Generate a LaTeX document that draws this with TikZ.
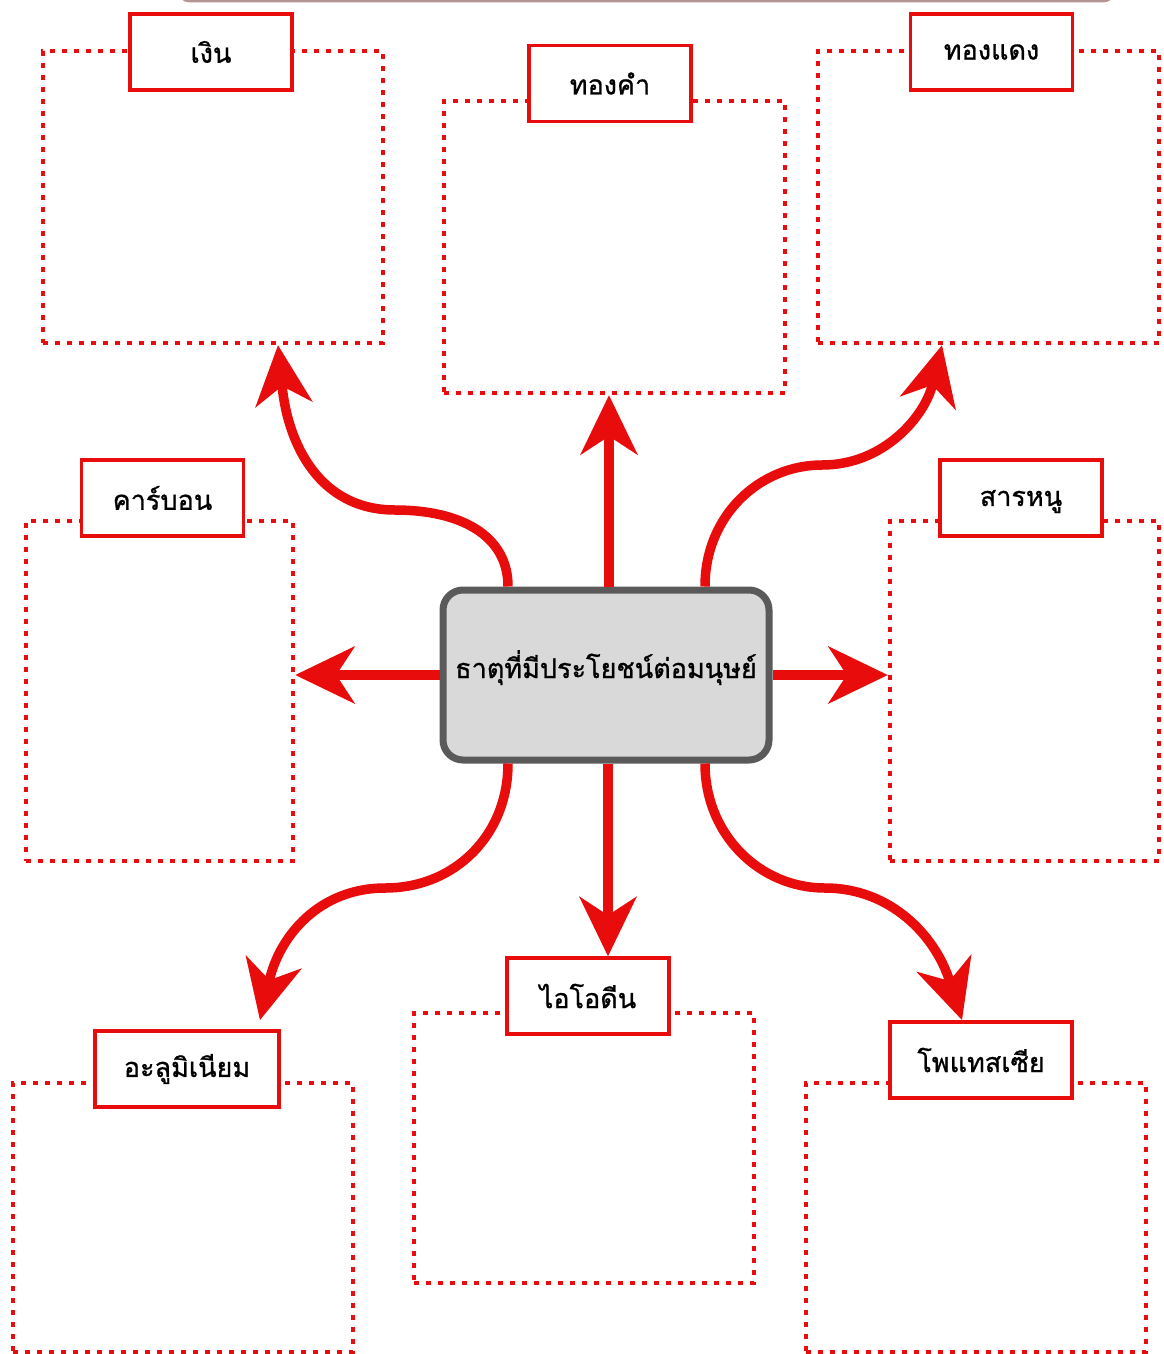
\documentclass[tikz,border=0pt]{standalone}
\usepackage{fontspec}
\newfontfamily\thaifont[Script=Thai,FakeBold=1.0]{Loma}
\usetikzlibrary{arrows.meta,calc}
\definecolor{mred}{RGB}{232,12,12}
\definecolor{mgray}{RGB}{90,90,90}
\definecolor{mfill}{RGB}{217,217,217}
\definecolor{mtop}{RGB}{180,148,148}
\tikzset{
  dotbox/.style={draw=mred, line width=4.5pt, dash pattern=on 5pt off 7pt, inner sep=0pt},
  lbl/.style={draw=mred, line width=3.5pt, fill=white, minimum width=162pt, minimum height=76pt, inner sep=0pt, font=\thaifont\fontsize{27}{30}\selectfont},
  center/.style={draw=mgray, line width=7pt, fill=mfill, rounded corners=20pt, minimum width=326pt, minimum height=170pt, inner sep=0pt, text height=20pt, text depth=14pt, font=\thaifont\fontsize{27}{30}\selectfont},
  arr/.style={draw=mred, line width=9.5pt, -{Stealth[length=60pt,width=58pt,inset=19pt,line width=0pt]}}
}
\begin{document}
\begin{tikzpicture}[x=1pt,y=-1pt]
\useasboundingbox (0,0) rectangle (1163,1354);
\draw[mtop, line width=3pt, fill=white, rounded corners=12pt] (178,-60) rectangle (1115,1);
% dotted boxes
\node[dotbox, minimum width=340pt, minimum height=292pt] (b1) at (213,197) {};
\node[dotbox, minimum width=341pt, minimum height=292pt] (b2) at (614.5,247) {};
\node[dotbox, minimum width=341pt, minimum height=292pt] (b3) at (988.5,197) {};
\node[dotbox, minimum width=267pt, minimum height=340pt] (b4) at (159.5,691) {};
\node[dotbox, minimum width=269pt, minimum height=340pt] (b5) at (1024.5,691) {};
\node[dotbox, minimum width=340pt, minimum height=269pt] (b6) at (183,1217.5) {};
\node[dotbox, minimum width=340pt, minimum height=270pt] (b7) at (584,1148) {};
\node[dotbox, minimum width=340pt, minimum height=269pt] (b8) at (976,1217.5) {};
% labels
\node[lbl] (l1) at (211,52) {เงิน};
\node[lbl] (l2) at (610,83.5) {ทองคำ};
\node[lbl] (l3) at (991.5,52) {ทองแดง};
\node[lbl] (l4) at (162.5,498) {คาร์บอน};
\node[lbl, text depth=0pt] (l5) at (1021,498) {สารหนู};
\node[lbl, minimum width=184pt] (l6) at (187,1069) {อะลูมิเนียม};
\node[lbl] (l7) at (588,996) {ไอโอดีน};
\node[lbl, minimum width=182pt] (l8) at (981,1060) {โพแทสเซีย};
% center
\node[center] (c) at (606,675) {ธาตุที่มีประโยชน์ต่อมนุษย์};
% straight arrows
\draw[arr] ([xshift=3pt]c.north) -- ([xshift=3pt]c.north |- b2.south);
\draw[arr] (c.west) -- (c.west -| b4.east);
\draw[arr] (c.east) -- (c.east -| b5.west);
\draw[arr] ([xshift=2pt]c.south) -- ([xshift=2pt]c.south |- l7.north);
% curved arrows
\coordinate (t1) at ([xshift=65pt]b1.south);
\coordinate (t3) at ([xshift=-46.5pt]b3.south);
\coordinate (t6) at (260,1020);
\coordinate (t8) at (962,1020);
\draw[arr] ([xshift=-98pt]c.north) .. controls (508,535) and (460,510) .. (395,510)
  .. controls (320,510) and (288,445) .. (t1);
\draw[arr] ([xshift=99pt]c.north) .. controls (705,515) and (760,465) .. (822,465)
  .. controls (885,465) and (925,415) .. (t3);
\draw[arr] ([xshift=-98pt]c.south) .. controls (508,835) and (455,888) .. (385,888)
  .. controls (320,888) and (280,935) .. (t6);
\draw[arr] ([xshift=99pt]c.south) .. controls (705,835) and (760,888) .. (825,888)
  .. controls (890,888) and (935,935) .. (t8);
\end{tikzpicture}
\end{document}
